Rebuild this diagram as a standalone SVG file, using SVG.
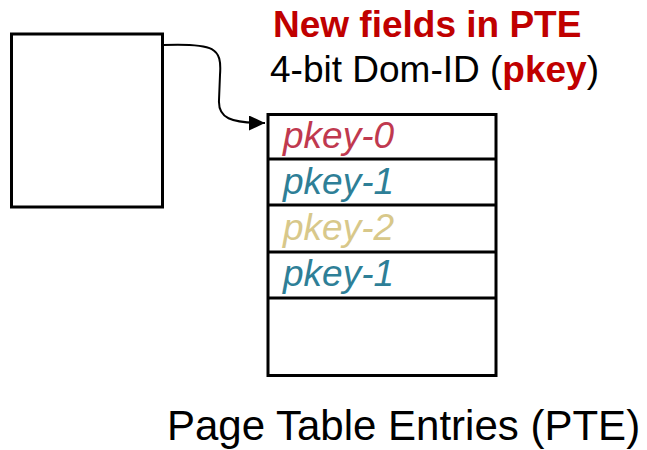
<svg xmlns="http://www.w3.org/2000/svg" width="647" height="450" viewBox="0 0 647 450">
<style>
.box{fill:#fff;stroke:#000;stroke-width:3}
.sep{stroke:#000;stroke-width:3}
.t{font-family:"Liberation Sans",Arial,sans-serif}
.pk{font-family:"Liberation Sans",Arial,sans-serif;font-style:italic;font-size:37px}
.conn{fill:none;stroke:#000;stroke-width:2}
</style>
<defs>
<marker id="arr" markerWidth="17" markerHeight="15" refX="16" refY="7.5" orient="auto" markerUnits="userSpaceOnUse">
<path d="M0,0 L16,7.5 L0,15 Z" fill="#000"/>
</marker>
</defs>
<rect width="647" height="450" fill="#fff"/>
<g id="source">
<rect class="box" x="11.5" y="34" width="151" height="173"/>
</g>
<g id="pte-table">
<rect class="box" x="268" y="114.5" width="228" height="261"/>
<line class="sep" x1="268" y1="159" x2="496" y2="159"/>
<line class="sep" x1="268" y1="205" x2="496" y2="205"/>
<line class="sep" x1="268" y1="252" x2="496" y2="252"/>
<line class="sep" x1="268" y1="298" x2="496" y2="298"/>
<text class="pk" x="283" y="148" fill="#C0394F">pkey-0</text>
<text class="pk" x="283" y="194" fill="#2E7F97">pkey-1</text>
<text class="pk" x="283" y="240" fill="#D8C88A">pkey-2</text>
<text class="pk" x="283" y="286" fill="#2E7F97">pkey-1</text>
</g>
<g id="title">
<text class="t" x="273" y="37" font-size="37" font-weight="bold" fill="#C00000">New fields in PTE</text>
<text class="t" x="270" y="82" font-size="37" fill="#000">4-bit Dom-ID (<tspan font-weight="bold" fill="#C00000">pkey</tspan>)</text>
</g>
<g id="caption">
<text class="t" x="167" y="440" font-size="42" fill="#000">Page Table Entries (PTE)</text>
</g>
<g id="connectors">
<path class="conn" d="M163,45 C 215,43 222,48 220,75 L 219,100 C 218,118 230,123 265,123" marker-end="url(#arr)"/>
</g>
</svg>
